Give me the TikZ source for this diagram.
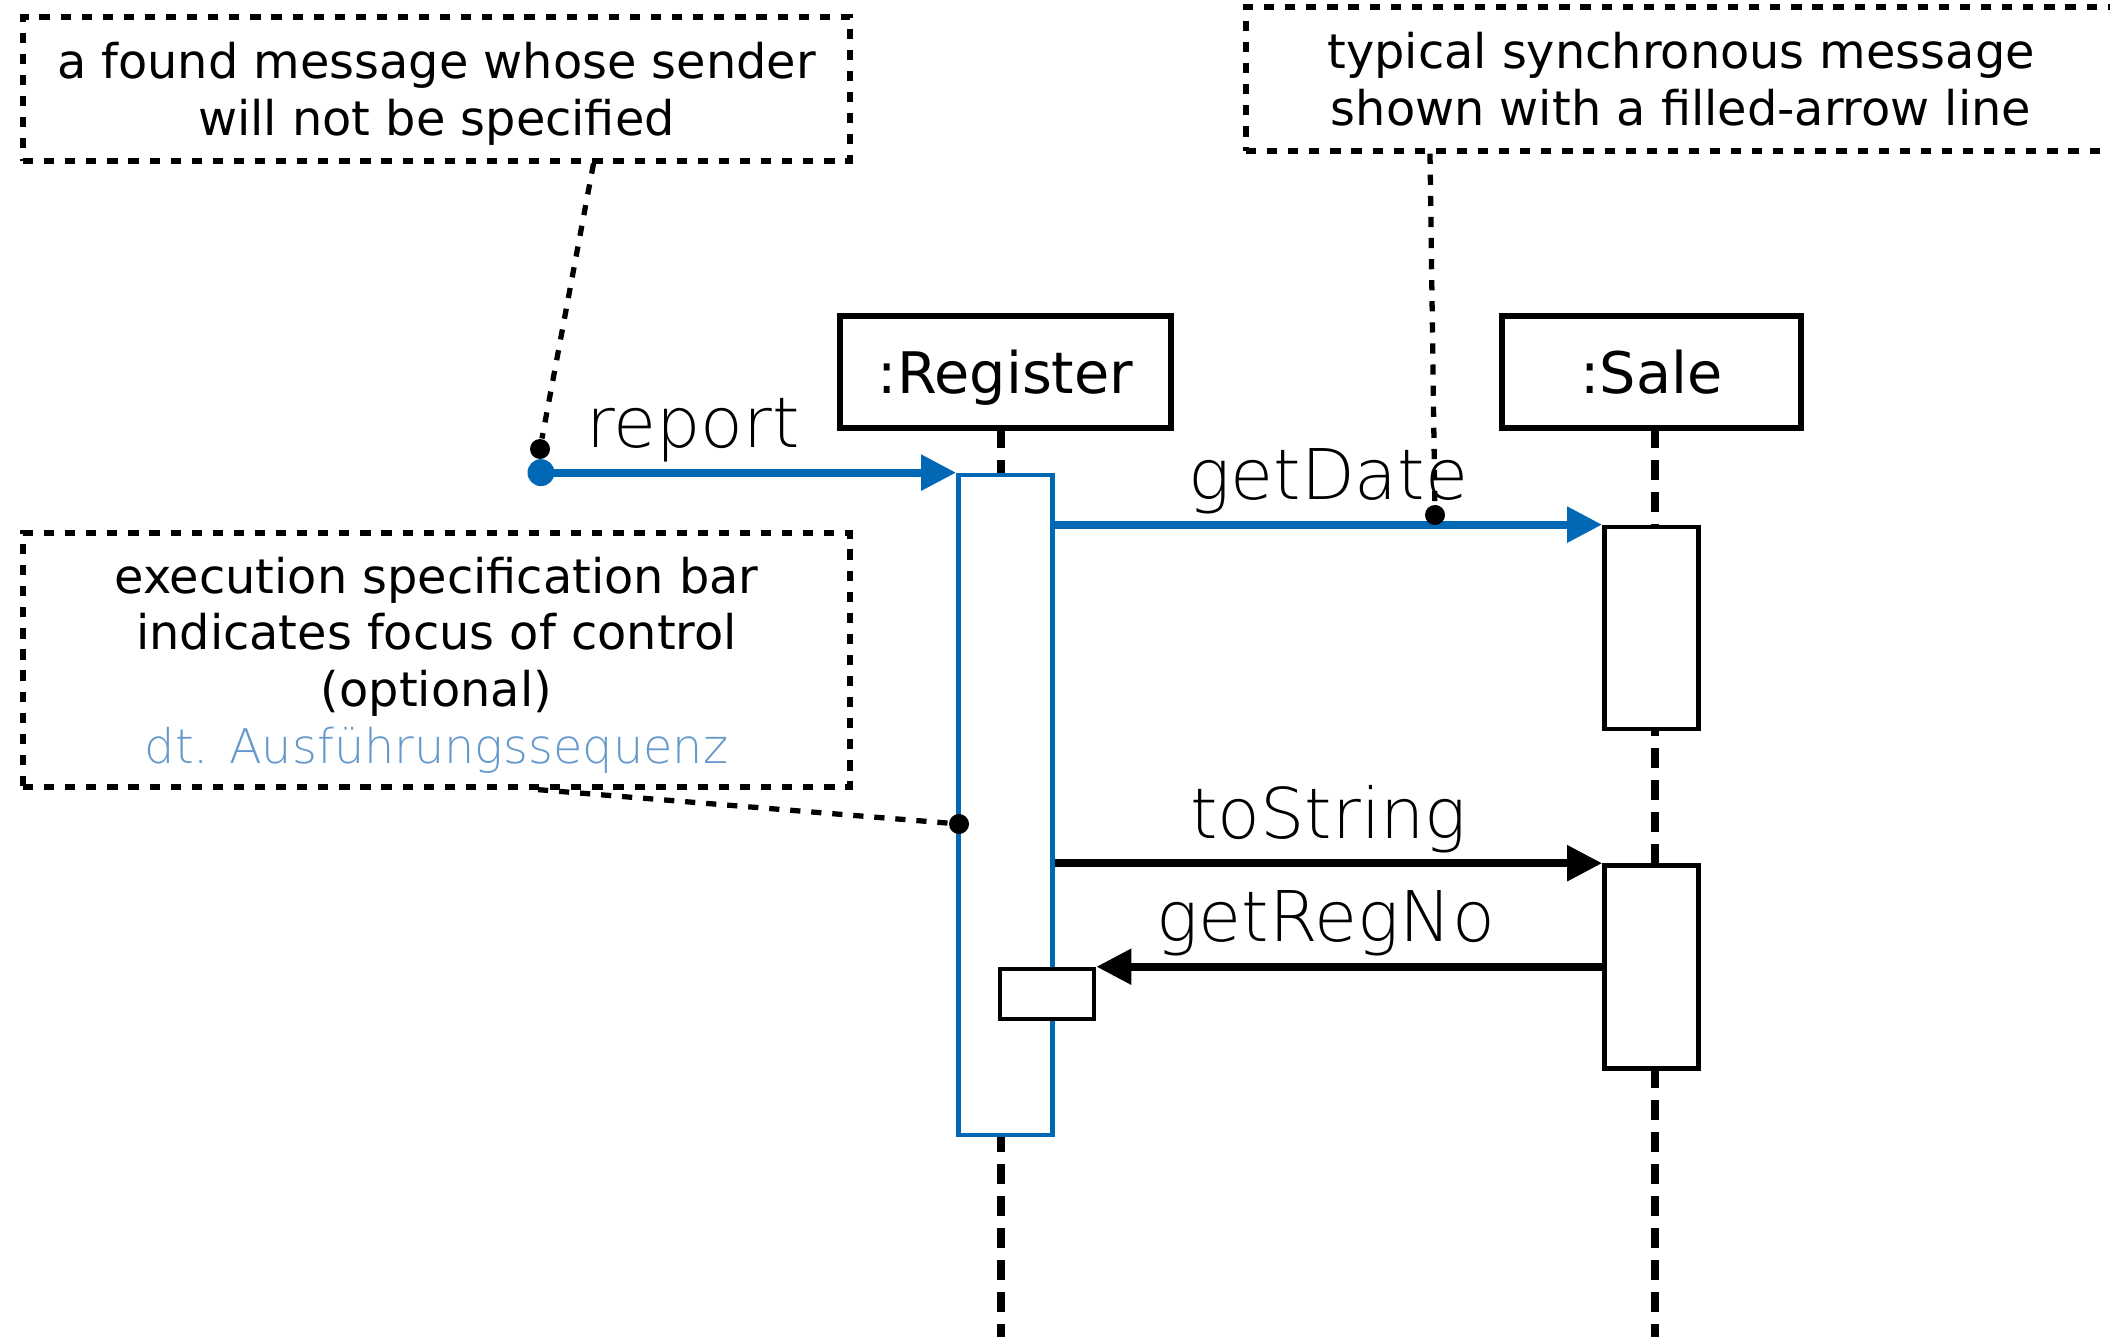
\documentclass[tikz,border=0pt]{standalone}
\usepackage{fontspec}
\setmainfont{DejaVu Sans}
\newfontfamily\lightfont{DejaVu Sans ExtraLight}
\usetikzlibrary{positioning,arrows.meta,calc}
\definecolor{seqblue}{RGB}{0,104,180}
\definecolor{hintblue}{RGB}{102,153,204}

\begin{document}
\begin{tikzpicture}[
  note/.style={draw, line width=1.5pt, dash pattern=on 2.9pt off 3.1pt, align=center, inner sep=0pt, text depth=0pt, font=\fontsize{13.6}{16.1}\selectfont},
  pin/.style={line width=1.5pt, dash pattern=on 2.9pt off 3.1pt},
  obj/.style={draw, line width=1.5pt, minimum height=1.12cm, inner sep=0pt, text depth=0pt, font=\fontsize{16.3}{19}\selectfont},
  lifeline/.style={line width=2.2pt, dash pattern=on 5.7pt off 3.4pt},
  bar/.style={draw, line width=1.3pt, fill=white, minimum width=0.94cm, inner sep=0pt},
  msg/.style={line width=2.3pt, -{Triangle[length=0.35cm,width=0.34cm]}},
  msglabel/.style={anchor=base, yshift=0.25cm, inner sep=0pt, text=black, font=\lightfont\fontsize{19.9}{23}\selectfont},
  dot/.style={circle, fill, inner sep=0pt, minimum size=0.2cm}
]
\useasboundingbox (0,0) rectangle (21.1,-13.37);
\clip (0,0) rectangle (21.1,-13.37);

\node[note, minimum width=8.27cm, minimum height=1.44cm] (foundnote) at (4.365,-0.89) {a found message whose sender\\will not be specified};
\node[note, minimum width=8.70cm, minimum height=1.44cm] (syncnote) at (16.81,-0.79) {typical synchronous message\\shown with a filled-arrow line};
\node[note, minimum width=8.27cm, minimum height=2.54cm] (focusnote) at (4.365,-6.60) {execution specification bar\\indicates focus of control\\(optional)\\{\lightfont\color{hintblue}dt. Ausführungssequenz}};

\node[obj, minimum width=3.31cm] (register) at (10.055,-3.72) {:Register};
\node[obj, minimum width=2.99cm] (sale) at (16.515,-3.72) {:Sale};

\draw[lifeline] (10.01,-4.28) -- (10.01,-13.37);
\draw[lifeline] (16.55,-4.28) -- (16.55,-13.37);

\node[bar, draw=seqblue, minimum height=6.6cm, below=0.42cm of register] (regbar) {};
\node[bar, minimum height=2.02cm, below=0.94cm of sale] (salebar1) {};
\node[bar, minimum height=2.03cm, below=1.32cm of salebar1] (salebar2) {};
\node[bar, minimum height=0.5cm] (callback) at (10.47,-9.94) {};

\node[dot, seqblue, minimum size=0.27cm] (found) at (regbar.north -| 5.41,0) {};
\draw[msg, seqblue] (found.center) -- (regbar.north west) node[msglabel, pos=0.366] (reportlbl) {report};
\draw[msg, seqblue] (regbar.east |- salebar1.north) -- (salebar1.north west) node[msglabel, midway] (datelbl) {getDate};
\draw[msg] (regbar.east |- salebar2.north) -- (salebar2.north west) node[msglabel, midway] (stringlbl) {toString};
\draw[msg] (salebar2.west |- callback.north) -- (callback.north east) node[msglabel, pos=0.546] (reglbl) {getRegNo};

\node[dot] (founddot) at (5.40,-4.49) {};
\node[dot] (syncdot) at (14.35,-5.15) {};
\node[dot] (bardot) at (9.59,-8.24) {};
\draw[pin] ([xshift=1.57cm]foundnote.south) -- (founddot);
\draw[pin] ([xshift=-2.51cm]syncnote.south) -- (syncdot);
\draw[pin] ([xshift=1.015cm]focusnote.south) -- (bardot);
\end{tikzpicture}
\end{document}
